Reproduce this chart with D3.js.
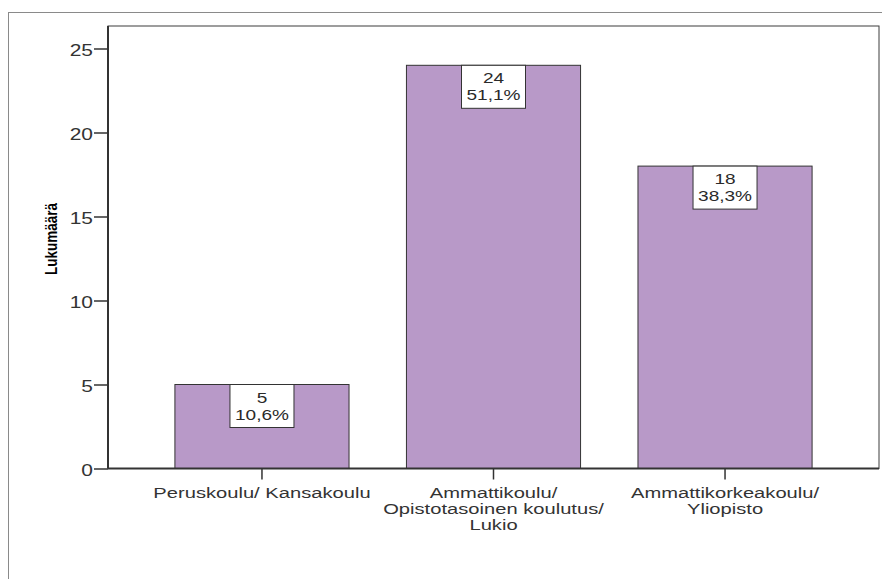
<!DOCTYPE html>
<html>
<head>
<meta charset="utf-8">
<script src="https://cdn.jsdelivr.net/npm/d3@7/dist/d3.min.js"></script>
<style>
  body { margin: 0; background: #fff; }
  svg { display: block; font-family: "Liberation Sans", Arial, sans-serif; }
</style>
</head>
<body>
<svg id="chart" width="882" height="579"></svg>
<script>
// Education level counts with their share of respondents
const categories = [
  ["Peruskoulu/ Kansakoulu"],
  ["Ammattikoulu/", "Opistotasoinen koulutus/", "Lukio"],
  ["Ammattikorkeakoulu/", "Yliopisto"]
];
const counts = [5, 24, 18];
const percents = ["10,6%", "51,1%", "38,3%"];
const yTicks = [0, 5, 10, 15, 20, 25];
const yTitle = "Lukumäärä";

// text is drawn wide: horizontal stretch factor for all glyphs
const SX = 1.27;

const svg = d3.select("#chart");
const plot = { left: 108, right: 879, top: 26, bottom: 468.5 };

// outer frame (only top and left edges fall inside the page)
svg.append("rect")
  .attr("x", 8.5).attr("y", 12.5)
  .attr("width", 900).attr("height", 600)
  .attr("fill", "none").attr("stroke", "#8a8a8a").attr("stroke-width", 1);

const x = d3.scaleBand()
  .domain(d3.range(counts.length))
  .range([plot.left, plot.right])
  .paddingInner(0.248)
  .paddingOuter(0.289);

const y = d3.scaleLinear()
  .domain([0, 25])
  .range([plot.bottom, plot.bottom - 25 * 16.8]);

// plot area frame
svg.append("rect")
  .attr("x", plot.left).attr("y", plot.top)
  .attr("width", plot.right - plot.left).attr("height", plot.bottom - plot.top)
  .attr("fill", "#fff").attr("stroke", "#3c3c3c").attr("stroke-width", 1);

// bars
svg.append("g").selectAll("rect")
  .data(counts)
  .join("rect")
  .attr("x", (d, i) => x(i))
  .attr("y", d => y(d))
  .attr("width", x.bandwidth())
  .attr("height", d => y(0) - y(d))
  .attr("fill", "#b899c8")
  .attr("stroke", "#333")
  .attr("stroke-width", 1);

// value labels in white boxes at the top of each bar
const lab = svg.append("g").selectAll("g")
  .data(counts)
  .join("g")
  .attr("transform", (d, i) => `translate(${x(i) + x.bandwidth() / 2},${y(d)})`);
lab.append("rect")
  .attr("x", -32).attr("y", 0)
  .attr("width", 64).attr("height", 43)
  .attr("fill", "#fff").attr("stroke", "#333").attr("stroke-width", 1);
lab.append("text")
  .attr("text-anchor", "middle")
  .attr("transform", `translate(0,18) scale(${SX},1)`)
  .attr("font-size", 15).attr("fill", "#2a2a2a")
  .text(d => d);
lab.append("text")
  .attr("text-anchor", "middle")
  .attr("transform", `translate(0,35) scale(${SX},1)`)
  .attr("font-size", 15).attr("fill", "#2a2a2a")
  .text((d, i) => percents[i]);

// y axis
const yAxis = svg.append("g")
  .attr("transform", `translate(${plot.left},0)`)
  .call(d3.axisLeft(y).tickValues(yTicks).tickSize(14).tickPadding(1).tickFormat(d3.format("d")));
yAxis.select(".domain").remove();
yAxis.selectAll("line").attr("stroke", "#333").attr("stroke-width", 1.5);
yAxis.selectAll("text")
  .attr("font-size", 16.5).attr("fill", "#333")
  .attr("font-family", "Liberation Sans, Arial, sans-serif")
  .attr("x", null).attr("dy", null)
  .attr("transform", `translate(-15,6.5) scale(${SX},1)`);
svg.append("line")
  .attr("x1", plot.left).attr("x2", plot.left)
  .attr("y1", plot.top).attr("y2", plot.bottom)
  .attr("stroke", "#333").attr("stroke-width", 2);

// x axis
const xAxis = svg.append("g")
  .attr("transform", `translate(0,${plot.bottom})`)
  .call(d3.axisBottom(x).tickSize(11).tickFormat(""));
xAxis.select(".domain").remove();
xAxis.selectAll("line").attr("stroke", "#333").attr("stroke-width", 1.5);
svg.append("line")
  .attr("x1", plot.left).attr("x2", plot.right)
  .attr("y1", plot.bottom).attr("y2", plot.bottom)
  .attr("stroke", "#333").attr("stroke-width", 2);

// multi-line category labels
const xl = svg.append("g").selectAll("text")
  .data(categories)
  .join("text")
  .attr("text-anchor", "middle")
  .attr("font-size", 14.5).attr("fill", "#333")
  .attr("transform", (d, i) => `translate(${x(i) + x.bandwidth() / 2},497.5) scale(1.39,1)`);
xl.selectAll("tspan")
  .data(d => d)
  .join("tspan")
  .attr("x", 0)
  .attr("dy", (d, j) => j === 0 ? 0 : 16.4)
  .text(d => d);

// y axis title
svg.append("text")
  .attr("transform", `translate(57,239) scale(${SX},1) rotate(-90)`)
  .attr("text-anchor", "middle")
  .attr("font-size", 13.5).attr("font-weight", "bold").attr("fill", "#000")
  .text(yTitle);
</script>
</body>
</html>
